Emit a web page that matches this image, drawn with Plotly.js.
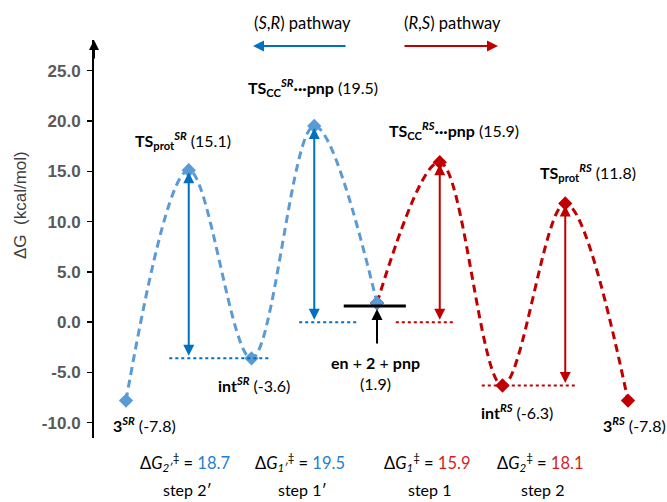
<!DOCTYPE html>
<html>
<head>
<meta charset="utf-8">
<script src="https://cdn.plot.ly/plotly-3.0.1.min.js"></script>
<style>html,body{margin:0;padding:0;background:#fff;}#chart{width:667px;height:502px;}</style>
</head>
<body>
<div id="chart"></div>
<script>
// ---------- data ----------
const stateNames = [
  '<b>3<sup><i>SR</i></sup></b>',
  '<b>TS<sub>prot</sub><sup><i>SR</i></sup></b>',
  '<b>int<sup><i>SR</i></sup></b>',
  '<b>TS<sub>CC</sub><sup><i>SR</i></sup>···pnp</b>',
  '<b>en</b> + <b>2</b> + <b>pnp</b>',
  '<b>TS<sub>CC</sub><sup><i>RS</i></sup>···pnp</b>',
  '<b>int<sup><i>RS</i></sup></b>',
  '<b>TS<sub>prot</sub><sup><i>RS</i></sup></b>',
  '<b>3<sup><i>RS</i></sup></b>'
];
const energies = [-7.8, 15.1, -3.6, 19.5, 1.9, 15.9, -6.3, 11.8, -7.8];
const srIdx = [0, 1, 2, 3, 4];
const rsIdx = [4, 5, 6, 7, 8];
const stepNames = ['step 2′', 'step 1′', 'step 1', 'step 2'];
const barrierSymbols = ['Δ<i>G</i><sub><i>2′</i></sub><sup>‡</sup>', 'Δ<i>G</i><sub><i>1′</i></sub><sup>‡</sup>', 'Δ<i>G</i><sub><i>1</i></sub><sup>‡</sup>', 'Δ<i>G</i><sub><i>2</i></sub><sup>‡</sup>'];
const peakIdx = [1, 3, 5, 7];
const baseLevels = [-3.6, 0.0, 0.0, -6.3];
const barriers = [18.7, 19.5, 15.9, 18.1];
const yTicks = [-10, -5, 0, 5, 10, 15, 20, 25];

// ---------- styles / geometry ----------
const BLUE = '#5B9BD5', BLUE_D = '#0070C0', BLUE_T = '#1E80D2';
const RED = '#C00000', RED_T = '#D81E1E';
const pathwayColor = [BLUE_D, BLUE_D, RED, RED];
const textColor = [BLUE_T, BLUE_T, RED_T, RED_T];
const L = 94, R = 660, T = 40, B = 438, W = R - L, H = B - T;
const PX = (px, py) => ({x: (px - L) / W, y: (B - py) / H});
const LBL = 'Lato, "Open Sans", sans-serif';

const traces = [
  {x: rsIdx, y: rsIdx.map(i => energies[i]), mode: 'lines+markers', type: 'scatter',
   line: {color: RED, width: 3, dash: '8px,5px', shape: 'spline', smoothing: 1},
   marker: {symbol: 'diamond', size: 11, color: RED}, hoverinfo: 'skip'},
  {x: srIdx, y: srIdx.map(i => energies[i]), mode: 'lines+markers', type: 'scatter',
   line: {color: BLUE, width: 3, dash: '8px,5px', shape: 'spline', smoothing: 1},
   marker: {symbol: 'diamond', size: 11, color: BLUE}, hoverinfo: 'skip'}
];

const ann = [];
const txt = (px, py, text, size, extra) => Object.assign({
  x: PX(px, py).x, y: PX(px, py).y, xref: 'paper', yref: 'paper', text: text,
  showarrow: false, xanchor: 'center', yanchor: 'middle',
  font: {family: LBL, size: size, color: '#000'}}, extra || {});

// state labels (pixel offsets from each point)
const shifts = [[18, -24], [-6, 30], [2, -26], [-1, 39], [-2, -70], [14, 32], [14, -26], [23, 31], [6, -24]];
energies.forEach((e, i) => {
  const t = i === 4 ? stateNames[i] + '<br>(' + e.toFixed(1) + ')'
                    : stateNames[i] + ' (' + e.toFixed(1) + ')';
  ann.push({x: i, y: e, xref: 'x', yref: 'y', text: t, showarrow: false,
    xanchor: 'center', yanchor: 'middle',
    xshift: shifts[i][0], yshift: shifts[i][1], align: 'center',
    font: {family: LBL, size: 16, color: '#000'}});
});

// barrier arrows and dotted reference levels
const dotSpan = [[0.69, 2.31], [2.76, 3.68], [4.30, 5.23], [5.67, 7.16]];
const bottomPx = [185, 300, 427, 540];
const shapes = [];
peakIdx.forEach((p, k) => {
  ann.push({x: p, y: energies[p], xref: 'x', yref: 'y', axref: 'x', ayref: 'y',
    ax: p, ay: baseLevels[k], text: '', showarrow: true, arrowside: 'end+start',
    arrowhead: 2, arrowsize: 1.1, arrowwidth: 2, arrowcolor: pathwayColor[k], standoff: 2, startstandoff: 1});
  shapes.push({type: 'line', xref: 'x', yref: 'y', x0: dotSpan[k][0], x1: dotSpan[k][1],
    y0: baseLevels[k], y1: baseLevels[k], line: {color: pathwayColor[k], width: 2, dash: 'dot'}});
  ann.push(txt(bottomPx[k], 462,
    barrierSymbols[k] + ' = <span style="color:' + textColor[k] + '">' + barriers[k].toFixed(1) + '</span>', 16.5));
  ann.push(txt(bottomPx[k] + 2, 490, stepNames[k], 16));
});

// reactant reference bar and arrow
shapes.push({type: 'line', xref: 'x', yref: 'y', ysizemode: 'pixel', yanchor: energies[4],
  x0: 3.47, x1: 4.46, y0: -3, y1: -3, line: {color: '#000', width: 3}});
ann.push({x: 4, y: energies[4], xref: 'x', yref: 'y', text: '', showarrow: true,
  ax: 0, ay: 36, yshift: -6, arrowhead: 2, arrowsize: 1.1, arrowwidth: 2, arrowcolor: '#000'});

// pathway legend arrows
ann.push({x: PX(253, 46).x, y: PX(253, 46).y, xref: 'paper', yref: 'paper', text: '', showarrow: true,
  ax: 94, ay: 0, arrowhead: 2, arrowsize: 1.1, arrowwidth: 2, arrowcolor: BLUE_D});
ann.push({x: PX(498, 46).x, y: PX(498, 46).y, xref: 'paper', yref: 'paper', text: '', showarrow: true,
  ax: -95, ay: 0, arrowhead: 2, arrowsize: 1.1, arrowwidth: 2, arrowcolor: RED});
ann.push(txt(302, 23, '(<i>S</i>,<i>R</i>) pathway', 16.5));
ann.push(txt(452, 23, '(<i>R</i>,<i>S</i>) pathway', 16.5));

// y axis arrow tip and title
ann.push({x: 0, y: 1, xref: 'paper', yref: 'paper', text: '', showarrow: true,
  ax: 0, ay: 20, arrowhead: 2, arrowsize: 1, arrowwidth: 2, arrowcolor: '#000'});
ann.push(txt(21, 205, 'ΔG  (kcal/mol)', 17, {textangle: -90,
  font: {family: '"Liberation Sans", Arial, sans-serif', size: 17, color: '#404040'}}));

const layout = {
  width: 667, height: 502,
  margin: {l: L, r: 667 - R, t: T, b: 502 - B},
  paper_bgcolor: '#fff', plot_bgcolor: '#fff', showlegend: false,
  xaxis: {range: [-0.51, 8.51], visible: false, fixedrange: true},
  yaxis: {range: [-11.52, 28.05], tickvals: yTicks, ticktext: yTicks.map(v => v.toFixed(1)),
    showgrid: false, zeroline: false, showline: true, linecolor: '#000', linewidth: 2,
    ticks: 'outside', ticklen: 5, tickwidth: 1.5, tickcolor: '#000',
    tickfont: {family: '"Liberation Sans", Arial, sans-serif', size: 17, color: '#595959', weight: 'bold'},
    ticklabelstandoff: 3},
  annotations: ann, shapes: shapes
};
Plotly.newPlot('chart', traces, layout, {displayModeBar: false, staticPlot: true});
</script>
</body>
</html>
